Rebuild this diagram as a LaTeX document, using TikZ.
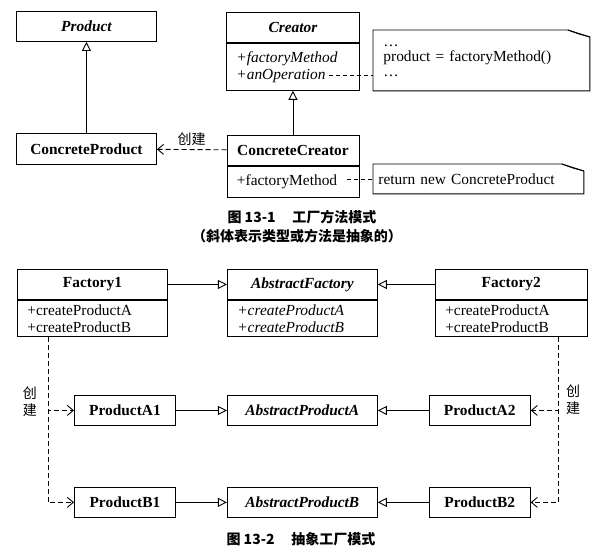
\documentclass[tikz,border=0pt]{standalone}
\usepackage{fontspec}
\setmainfont{Liberation Serif}
\newfontfamily\cjk{Noto Sans CJK SC}
\usetikzlibrary{arrows.meta,positioning}

\newcommand\notefold[1]{%
  \draw (#1.north west) -- ([xshift=-22pt]#1.north east)
    -- ([yshift=-7pt]#1.north east) -- (#1.south east)
    -- (#1.south west) -- cycle;
  \draw ([xshift=-22pt]#1.north east) -- ([xshift=-11pt,yshift=-4pt]#1.north east)
    -- ([yshift=-7pt]#1.north east);}

\begin{document}
\begin{tikzpicture}[
      x=1pt, y=-1pt,
      line width=0.9pt,
      font=\fontsize{15.4}{17}\selectfont,
      classbox/.style={
        rectangle,
        draw,
        minimum height=30pt,
        inner sep=2pt,
        font=\fontsize{15.4}{17}\selectfont\bfseries
      },
      abstractbox/.style={
        classbox,
        font=\fontsize{15.4}{17}\selectfont\bfseries\itshape
      },
      ops/.style={
        rectangle,
        draw,
        inner xsep=10pt, inner ysep=2pt,
        align=left,
        anchor=north west
      },
      absops/.style={
        ops,
        font=\fontsize{15.4}{17}\selectfont\itshape
      },
      note/.style={
        rectangle,
        anchor=north west,
        align=left
      },
      inherit/.style={
        -{Triangle[open,length=9pt,width=9pt]}
      },
      create/.style={
        -{Straight Barb[length=6pt,width=10pt]},
        dash pattern=on 5pt off 3pt
      },
      link/.style={
        dash pattern=on 4pt off 3pt
      },
      caption/.style={
        font=\cjk\fontsize{14}{17}\selectfont\bfseries
      }
    ]
    \useasboundingbox (0,0) rectangle (606,558);

    % factory method
    \node[abstractbox, minimum width=140pt, anchor=north west] (product) at (16,11) {Product};
    \node[classbox, minimum width=140pt, minimum height=31pt, below=91pt of product] (cproduct) {ConcreteProduct};
    \node[abstractbox, minimum width=133pt, anchor=north west] (creator) at (226,12) {Creator};
    \node[absops, text width=113pt, minimum height=47pt] (creatorops) at (creator.south west) {+factoryMethod\\+anOperation};
    \node[classbox, minimum width=132pt, below=44pt of creatorops] (ccreator) {ConcreteCreator};
    \node[ops, text width=112pt, minimum height=31pt] (ccreatorops) at (ccreator.south west) {+factoryMethod};

    \node[note, text width=196pt, inner xsep=10pt, minimum height=60pt, font=\fontsize{15.4}{15}\selectfont] (note1) at (373,30) {\ldots\\product = factoryMethod()\\\ldots};
    \node[note, text width=200pt, inner xsep=5pt, minimum height=29pt] (note2) at (373,164) {return new ConcreteProduct};
    \notefold{note1}
    \notefold{note2}

    \draw[inherit] (cproduct) -- (product);
    \draw[inherit] (ccreator) -- (creatorops);
    \draw[create] (ccreator) -- node[above, font=\cjk\fontsize{14}{17}\selectfont] (createtop) {创建} (cproduct);

    \coordinate (opend) at (329,75);
    \coordinate (fmend) at (347,179);
    \draw[link] (opend) -- (opend -| note1.west);
    \draw[link] (fmend) -- (fmend -| note2.west);

    \node[caption] (cap1) at (302,217) {图 13-1\hspace{1.2em}工厂方法模式};
    \node[caption] (cap1sub) at (297,236) {（斜体表示类型或方法是抽象的）};

    % abstract factory
    \node[classbox, minimum width=150pt, anchor=north west] (factory1) at (17,269) {Factory1};
    \node[ops, text width=130pt, minimum height=36pt] (factory1ops) at (factory1.south west) {+createProductA\\+createProductB};
    \node[abstractbox, minimum width=150pt, right=59pt of factory1] (absfactory) {AbstractFactory};
    \node[absops, text width=130pt, minimum height=36pt] (absfactoryops) at (absfactory.south west) {+createProductA\\+createProductB};
    \node[classbox, minimum width=152pt, right=57pt of absfactory] (factory2) {Factory2};
    \node[ops, text width=132pt, minimum height=36pt] (factory2ops) at (factory2.south west) {+createProductA\\+createProductB};

    \node[classbox, minimum width=101pt, anchor=north west] (prodA1) at (74,395) {ProductA1};
    \node[abstractbox, minimum width=150pt, right=51pt of prodA1] (absprodA) {AbstractProductA};
    \node[classbox, minimum width=101pt, right=51pt of absprodA] (prodA2) {ProductA2};
    \node[classbox, minimum width=101pt, below=61pt of prodA1] (prodB1) {ProductB1};
    \node[abstractbox, minimum width=150pt, right=51pt of prodB1] (absprodB) {AbstractProductB};
    \node[classbox, minimum width=101pt, right=51pt of absprodB] (prodB2) {ProductB2};

    \draw[inherit] (factory1) -- (absfactory);
    \draw[inherit] (factory2) -- (absfactory);
    \draw[inherit] (prodA1) -- (absprodA);
    \draw[inherit] (prodA2) -- (absprodA);
    \draw[inherit] (prodB1) -- (absprodB);
    \draw[inherit] (prodB2) -- (absprodB);

    \coordinate (fromF1) at ([xshift=31pt]factory1ops.south west);
    \coordinate (fromF2) at ([xshift=-29pt]factory2ops.south east);
    \draw[create] (fromF1) |- (prodA1);
    \draw[create] (fromF1) |- (prodB1);
    \draw[create] (fromF2) |- (prodA2);
    \draw[create] (fromF2) |- (prodB2);

    \node[align=center, font=\cjk\fontsize{14}{17}\selectfont] (createL) at (30,402) {创\\建};
    \node[align=center, font=\cjk\fontsize{14}{17}\selectfont] (createR) at (573,400) {创\\建};

    \node[caption] (cap2) at (301,539) {图 13-2\hspace{1.2em}抽象工厂模式};
  \end{tikzpicture}
\end{document}
